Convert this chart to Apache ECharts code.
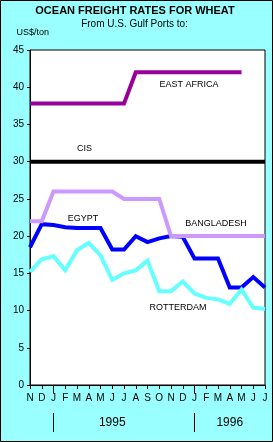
<!DOCTYPE html>
<html><head><meta charset="utf-8">
<script src="https://cdn.jsdelivr.net/npm/echarts@6/dist/echarts.min.js"></script>
<style>html,body{margin:0;padding:0;background:#99ffff}#c{width:273px;height:442px}</style>
</head><body><div id="c"></div>
<script>
var months = ['N','D','J','F','M','A','M','J','J','A','S','O','N','D','J','F','M','A','M','J','J'];
var yearLabels = ['1995','1996'];
var eastAfrica = [37.8,37.8,37.8,37.8,37.8,37.8,37.8,37.8,37.8,42,42,42,42,42,42,42,42,42,42,null,null];
var cis = [30,30,30,30,30,30,30,30,30,30,30,30,30,30,30,30,30,30,30,30,30];
var bangladesh = [22,22,26,26,26,26,26,26,25,25,25,25,20,20,20,20,20,20,20,20,20];
var egypt = [18.5,21.6,21.5,21.2,21.1,21.1,21.1,18.2,18.2,20.0,19.2,19.7,20.0,19.9,17.0,17.0,17.0,13.1,13.1,14.5,13.1];
var rotterdam = [15.2,16.9,17.3,15.4,18.1,19.1,17.4,14.1,15.0,15.4,16.7,12.6,12.6,13.9,12.3,11.7,11.5,10.9,12.8,10.4,10.2];

var F = '"Liberation Sans", Arial, sans-serif';
var chart = echarts.init(document.getElementById('c'));
function isJan(i){ return months[i]==='J' && (i===2 || i===14); }
function ln(name, data, color){
  return {name:name, type:'line', data:data, symbol:'none', animation:false,
    lineStyle:{color:color, width:4, cap:'butt', join:'miter'}};
}
function txt(x,y,t){ return {type:'text', x:x, y:y, style:{text:t, font:'9px '+F, fill:'#000', align:'center', verticalAlign:'middle'}}; }
chart.setOption({
  backgroundColor:'#99ffff',
  animation:false,
  grid:{left:30, right:8, top:50, bottom:57, show:true, backgroundColor:'#fff', borderColor:'#000', borderWidth:1},
  xAxis:[{
    type:'category', data:months, boundaryGap:false,
    axisLine:{lineStyle:{color:'#000', width:1}},
    axisTick:{show:true, length:4, lineStyle:{color:'#000'}},
    axisLabel:{interval:0, margin:8, fontSize:10, fontFamily:F, color:'#000'},
    splitLine:{show:false}
  },{
    type:'category', data:months, boundaryGap:false, position:'bottom',
    axisLine:{show:false},
    axisTick:{show:true, length:8, interval:function(i){return isJan(i);}, lineStyle:{color:'#000'}},
    axisLabel:{show:false}
  },{
    type:'category', data:months, boundaryGap:false, position:'bottom', offset:47,
    axisLine:{show:false},
    axisTick:{show:true, inside:true, length:19, interval:function(i){return isJan(i);}, lineStyle:{color:'#000'}},
    axisLabel:{show:true, inside:true, margin:3, interval:function(i){return i===7||i===17;},
      formatter:function(v,i){return i===7?yearLabels[0]:(i===17?yearLabels[1]:'');},
      rich:{}, padding:[0,0,0,0], fontSize:12, fontFamily:F, color:'#000'}
  }],
  yAxis:{
    type:'value', min:0, max:45, interval:5,
    axisLine:{show:true, lineStyle:{color:'#000'}},
    axisTick:{show:true, length:3, lineStyle:{color:'#000'}},
    axisLabel:{margin:6, fontSize:10, fontFamily:F, color:'#000'},
    splitLine:{show:false}
  },
  series:[
    ln('EGYPT', egypt, '#0000ff'),
    ln('ROTTERDAM', rotterdam, '#66ffff'),
    ln('BANGLADESH', bangladesh, '#cc99ff'),
    ln('CIS', cis, '#000000'),
    ln('EAST AFRICA', eastAfrica, '#990099')
  ],
  graphic:[
    {type:'text', x:135, y:10.5, style:{text:'OCEAN FREIGHT RATES FOR WHEAT', font:'bold 11px '+F, fill:'#000', align:'center', verticalAlign:'middle'}},
    {type:'text', x:134.5, y:24, style:{text:'From U.S. Gulf Ports to:', font:'10px '+F, fill:'#000', align:'center', verticalAlign:'middle'}},
    {type:'text', x:16.5, y:32.5, style:{text:'US$/ton', font:'9px '+F, fill:'#000', align:'left', verticalAlign:'middle'}},
    txt(189,84.5,'EAST AFRICA'),
    txt(84.5,148.5,'CIS'),
    txt(83,219,'EGYPT'),
    txt(216,224,'BANGLADESH'),
    txt(178,307.5,'ROTTERDAM'),
    {type:'rect', shape:{x:0.5, y:0.5, width:272, height:441}, style:{fill:'none', stroke:'#000', lineWidth:1}, z:100}
  ]
});
</script></body></html>
